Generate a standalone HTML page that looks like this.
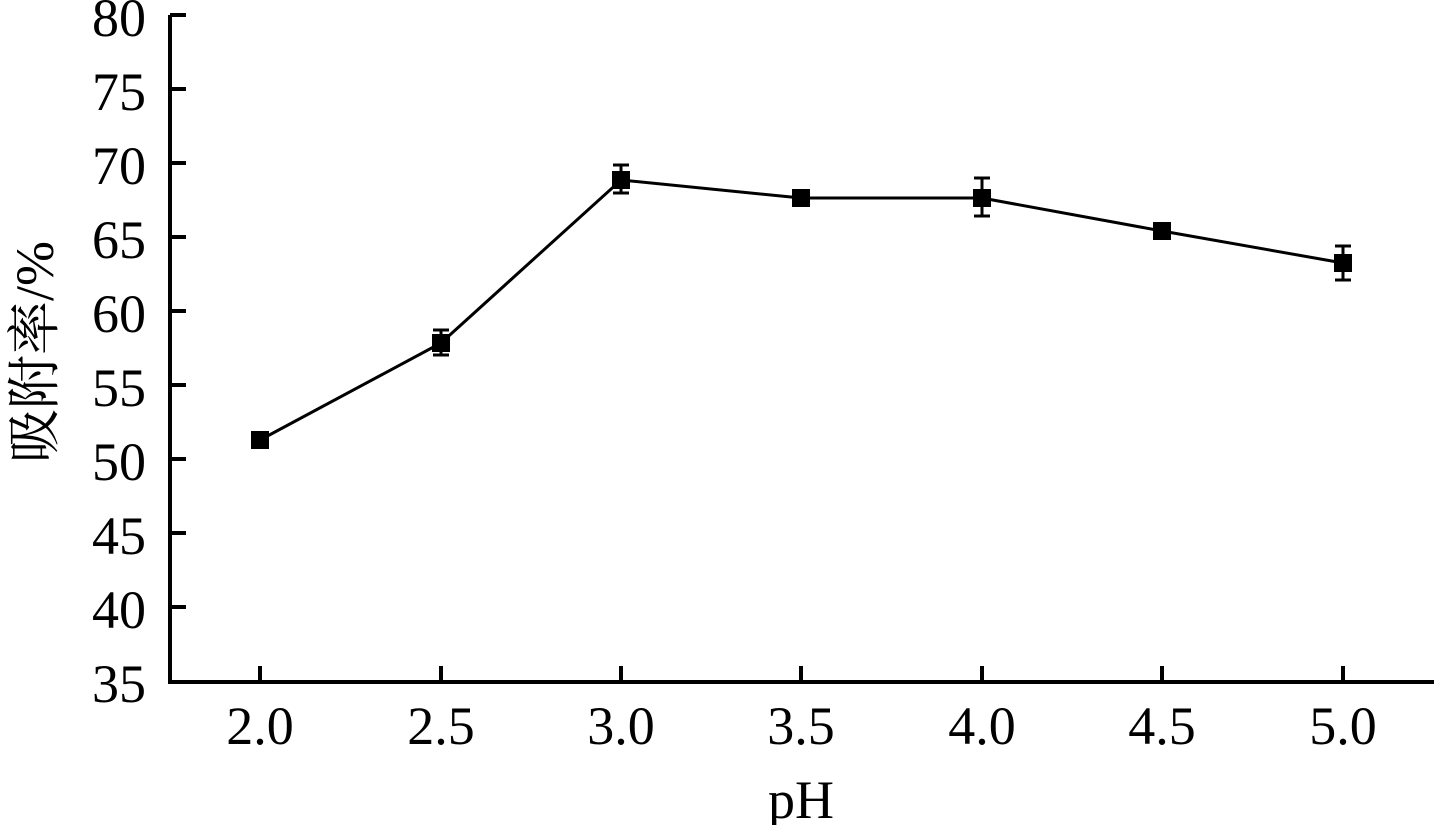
<!DOCTYPE html>
<html><head><meta charset="utf-8"><style>
html,body{margin:0;padding:0;background:#fff;}
svg{display:block;}
text{font-family:"Liberation Serif","Noto Serif CJK SC",serif;fill:#000;}
</style></head><body>
<svg width="1434" height="825" viewBox="0 0 1434 825" xmlns="http://www.w3.org/2000/svg">
<g stroke="#000" stroke-width="4" fill="none">
<polyline points="170,15 170,682 1434,682"/>
<path d="M170,15h16 M170,89h16 M170,163h16 M170,237h16 M170,311h16 M170,385h16 M170,459h16 M170,533h16 M170,607h16"/>
<path d="M260,682v-16 M441,682v-16 M621,682v-16 M801,682v-16 M982,682v-16 M1162,682v-16 M1343,682v-16"/>
</g>
<g stroke="#000" stroke-width="3" fill="none">
<polyline points="260,440 441,343 621,180 801,198 982,198 1162,231 1343,263"/>
<path d="M441,330v25 M433,330h16 M433,355h16"/>
<path d="M621,165v28 M613,165h16 M613,193h16"/>
<path d="M982,178v38 M974,178h16 M974,216h16"/>
<path d="M1343,246v34 M1335,246h16 M1335,280h16"/>
</g>
<g fill="#000">
<rect x="251" y="431" width="18" height="18"/>
<rect x="432" y="334" width="18" height="18"/>
<rect x="612" y="171" width="18" height="18"/>
<rect x="792" y="189" width="18" height="18"/>
<rect x="973" y="189" width="18" height="18"/>
<rect x="1153" y="222" width="18" height="18"/>
<rect x="1334" y="254" width="18" height="18"/>
</g>
<g font-size="54" text-anchor="end">
<text x="146" y="36">80</text>
<text x="146" y="110">75</text>
<text x="146" y="184">70</text>
<text x="146" y="258">65</text>
<text x="146" y="332">60</text>
<text x="146" y="406">55</text>
<text x="146" y="480">50</text>
<text x="146" y="554">45</text>
<text x="146" y="628">40</text>
<text x="146" y="702">35</text>
</g>
<g font-size="54" text-anchor="middle">
<text x="260" y="744">2.0</text>
<text x="441" y="744">2.5</text>
<text x="621" y="744">3.0</text>
<text x="801" y="744">3.5</text>
<text x="982" y="744">4.0</text>
<text x="1162" y="744">4.5</text>
<text x="1343" y="744">5.0</text>
<text x="801" y="818">pH</text>
</g>
<text font-size="54" text-anchor="middle" transform="translate(53,352) rotate(-90)">吸附率/%</text>
</svg>
</body></html>
